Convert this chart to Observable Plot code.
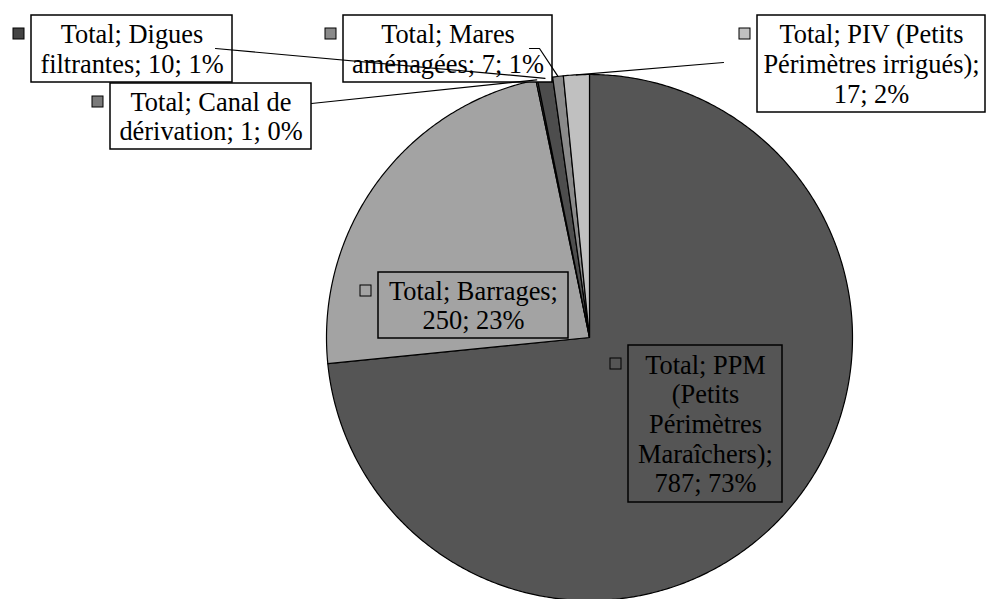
<!DOCTYPE html>
<html>
<head>
<meta charset="utf-8">
<script src="https://cdn.jsdelivr.net/npm/d3@7"></script>
<script src="https://cdn.jsdelivr.net/npm/@observablehq/plot@0.6"></script>
<style>
  html, body { margin: 0; padding: 0; background: #ffffff; }
  #chart { width: 986px; height: 599px; overflow: hidden; }
</style>
</head>
<body>
<div id="chart"></div>
<script>
// ---------- data ----------
const categories = [
  "PPM (Petits Périmètres Maraîchers)",
  "Barrages",
  "Canal de dérivation",
  "Digues filtrantes",
  "Mares aménagées",
  "PIV (Petits Périmètres irrigués)"
];
const values = [787, 250, 1, 10, 7, 17];
// label text templates ({v} = value, {p} = percentage)
const labelTemplates = [
  "Total; PPM\n(Petits\nPérimètres\nMaraîchers);\n{v}; {p}%",
  "Total; Barrages;\n{v}; {p}%",
  "Total; Canal de\ndérivation; {v}; {p}%",
  "Total; Digues\nfiltrantes; {v}; {p}%",
  "Total; Mares\naménagées; {v}; {p}%",
  "Total; PIV (Petits\nPérimètres irrigués);\n{v}; {p}%"
];

// ---------- styles ----------
const sliceColors = ["#555555", "#a3a3a3", "#7a7a7a", "#4d4d4d", "#8a8a8a", "#c0c0c0"];
const keyColors   = ["none",    "none",    "#7a7a7a", "#444444", "#8a8a8a", "#c0c0c0"];
const boxFills    = ["none",    "none",    "white",   "white",   "white",   "white"];

// ---------- layout (pixels) ----------
const W = 986, H = 599;
const cx = 589, cy = 337, R = 263;
const boxes = [            // [x1, y1, x2, y2]
  [628, 345, 782, 502],
  [378, 272, 568, 338],
  [110, 83, 311, 149],
  [31, 15, 232, 82],
  [343, 15, 552, 82],
  [757, 15, 985, 112]
];
const leaderStarts = [     // points before the slice anchor
  [],
  [],
  [[311, 103]],
  [[215, 48]],
  [[529, 48], [539, 48]],
  [[723, 62]]
];
const FONT_SIZE = 26.4;
const LINE_HEIGHT = 1.12;
const keySize = 11;
const FONT = "Liberation Serif";

// ---------- build ----------
const total = d3.sum(values);
const arcs = d3.pie().sort(null).value(d => d)(values);

const slices = arcs.map((a, i) => {
  const pts = [{x: cx, y: cy}];
  const n = Math.max(2, Math.ceil((a.endAngle - a.startAngle) / (Math.PI / 360)));
  for (let k = 0; k <= n; k++) {
    const t = a.startAngle + (a.endAngle - a.startAngle) * k / n;
    pts.push({x: cx + R * Math.sin(t), y: cy - R * Math.cos(t)});
  }
  return pts;
});

const labels = categories.map((c, i) => {
  const p = Math.round(values[i] / total * 100);
  const b = boxes[i];
  return {
    cat: c,
    text: labelTemplates[i].replace("{v}", values[i]).replace("{p}", p),
    x1: b[0], y1: b[1], x2: b[2], y2: b[3],
    x: (b[0] + b[2]) / 2, y: (b[1] + b[3]) / 2 - 0.5,
    kx: b[0] - 12.5, ky: b[1] + 18.5,
    boxFill: boxFills[i], keyFill: keyColors[i]
  };
});

const leaders = [];
arcs.forEach((a, i) => {
  if (!leaderStarts[i].length) return;
  const m = (a.startAngle + a.endAngle) / 2;
  leaderStarts[i].forEach(([x, y]) => leaders.push({cat: categories[i], x, y}));
  leaders.push({cat: categories[i], x: cx + R * Math.sin(m), y: cy - R * Math.cos(m)});
});

const chart = Plot.plot({
  width: W,
  height: H,
  margin: 0,
  x: {domain: [0, W], range: [0, W], axis: null},
  y: {domain: [0, H], range: [0, H], axis: null},
  style: {fontFamily: FONT},
  marks: [
    ...slices.map((pts, i) => Plot.line(pts, {
      x: "x", y: "y", curve: "linear-closed",
      fill: sliceColors[i], stroke: "black", strokeWidth: 1.2
    })),
    Plot.rect(labels, {
      x1: "x1", x2: "x2", y1: "y1", y2: "y2",
      fill: d => d.boxFill, stroke: "black", strokeWidth: 1.5
    }),
    Plot.rect(labels, {
      x1: d => d.kx - keySize / 2, x2: d => d.kx + keySize / 2,
      y1: d => d.ky - keySize / 2, y2: d => d.ky + keySize / 2,
      fill: d => d.keyFill, stroke: "black", strokeWidth: 1
    }),
    Plot.text(labels, {
      x: "x", y: "y", text: "text",
      fontSize: FONT_SIZE, lineHeight: LINE_HEIGHT, textAnchor: "middle", lineAnchor: "middle",
      fill: "black", fontFamily: FONT
    }),
    Plot.line(leaders, {x: "x", y: "y", z: "cat", stroke: "black", strokeWidth: 1.2})
  ]
});
d3.select(chart).selectAll("text, tspan").style("font-family", FONT);
document.getElementById("chart").appendChild(chart);
</script>
</body>
</html>
